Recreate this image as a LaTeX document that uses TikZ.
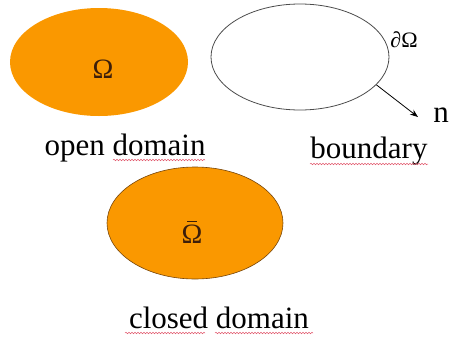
\documentclass[tikz,border=0pt]{standalone}
\usepackage{fontspec}
\setmainfont{Liberation Serif}
\usetikzlibrary{shapes.geometric,arrows.meta,decorations.pathmorphing}
\definecolor{domainfill}{RGB}{250,152,0}
\definecolor{domainedge}{RGB}{120,70,10}
\definecolor{spellred}{RGB}{225,90,110}
\definecolor{symink}{RGB}{60,30,10}
\tikzset{
  region/.style={ellipse, minimum width=178pt, minimum height=108pt, inner sep=0pt},
  label/.style={font=\fontsize{31}{31}\selectfont, inner sep=0pt, anchor=base},
  sym/.style={font=\fontsize{28}{28}\selectfont, inner sep=0pt, text=symink},
  squiggle/.style={spellred, line width=0.5pt, decorate,
    decoration={snake, amplitude=0.8pt, segment length=3pt}}
}
\begin{document}
\begin{tikzpicture}[x=1pt, y=-1pt]
  \useasboundingbox (0,0) rectangle (453,338);

  % open domain
  \node[region, fill=domainfill] (open) at (99,62) {};
  \node[sym] (om) at (103,69) {Ω};
  \node[label] (openlbl) at (125,155) {open domain};

  % boundary with outward normal
  \node[region, draw=black!70, line width=0.8pt, minimum height=106pt] (bd) at (300,57) {};
  \node[sym, font=\fontsize{22}{22}\selectfont, text=black] (dom) at (404,40) {∂Ω};
  \coordinate (tip) at (418,117);
  \draw[line width=0.8pt, -{Stealth[length=8pt,width=6pt]}] (bd.-20) -- (tip);
  \node[label] (nn) at (441,122) {n};
  \node[label] (bdlbl) at (369,158) {boundary};

  % closed domain
  \node[region, fill=domainfill, draw=domainedge, line width=0.6pt, minimum width=176pt, minimum height=112pt] (closed) at (195,223) {};
  \node[sym] (omb) at (192,234) {Ω};
  \draw[line width=1.1pt, symink] ([xshift=-5pt,yshift=3pt]omb.north) -- ([xshift=5pt,yshift=3pt]omb.north);
  \node[label] (cllbl) at (219,328) {closed domain};

  % spelling marks under words
  \draw[squiggle] (113,160) -- (205,160);
  \draw[squiggle] (310,164) -- (428,164);
  \draw[squiggle] (125,333) -- (205,333);
  \draw[squiggle] (215,333) -- (313,333);
\end{tikzpicture}
\end{document}
